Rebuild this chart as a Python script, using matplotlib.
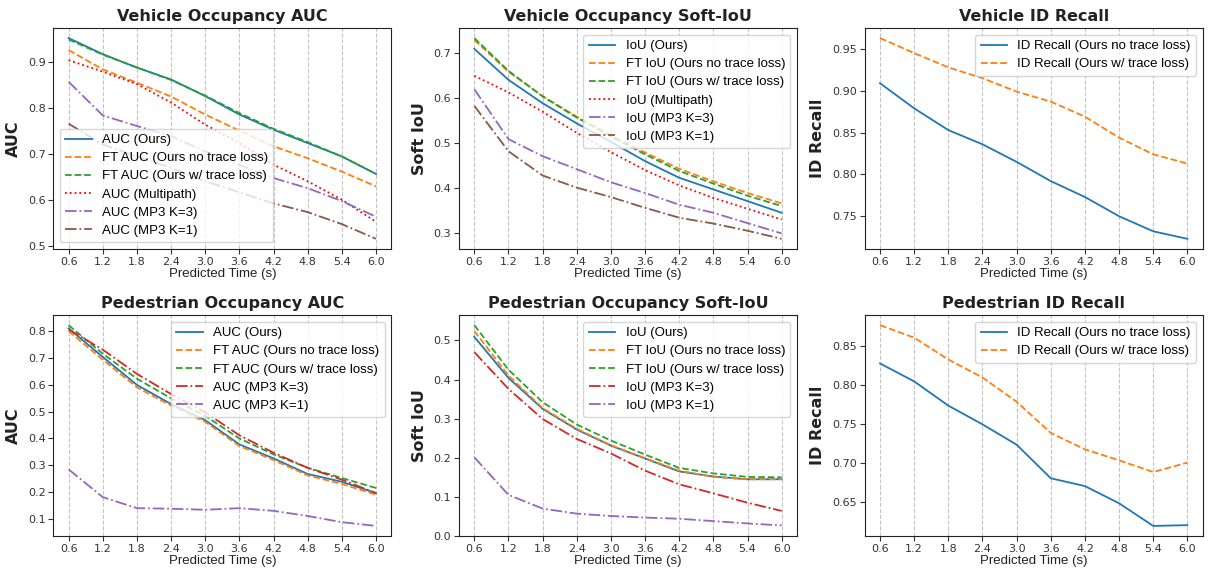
import numpy as np
import matplotlib
matplotlib.use("Agg")
import matplotlib.pyplot as plt
from matplotlib.ticker import MultipleLocator

# x axis (prediction horizon, seconds)
times = [0.6, 1.2, 1.8, 2.4, 3.0, 3.6, 4.2, 4.8, 5.4, 6.0]

# Vehicle occupancy AUC
veh_auc_ours = [0.951, 0.916, 0.887, 0.861, 0.825, 0.785, 0.752, 0.723, 0.694, 0.656]
veh_auc_ft_no = [0.925, 0.883, 0.854, 0.824, 0.785, 0.750, 0.716, 0.690, 0.661, 0.629]
veh_auc_ft_w = [0.948, 0.915, 0.887, 0.860, 0.826, 0.788, 0.754, 0.725, 0.694, 0.656]
veh_auc_multipath = [0.903, 0.878, 0.851, 0.811, 0.763, 0.723, 0.676, 0.640, 0.600, 0.552]
veh_auc_mp3_k3 = [0.856, 0.783, 0.760, 0.738, 0.705, 0.676, 0.647, 0.625, 0.597, 0.563]
veh_auc_mp3_k1 = [0.765, 0.720, 0.694, 0.669, 0.640, 0.616, 0.592, 0.573, 0.547, 0.515]

# Vehicle occupancy soft-IoU
veh_iou_ours = [0.710, 0.641, 0.589, 0.544, 0.503, 0.460, 0.423, 0.397, 0.371, 0.345]
veh_iou_ft_no = [0.730, 0.659, 0.605, 0.559, 0.518, 0.479, 0.443, 0.415, 0.389, 0.366]
veh_iou_ft_w = [0.734, 0.661, 0.604, 0.557, 0.515, 0.475, 0.438, 0.410, 0.383, 0.360]
veh_iou_multipath = [0.650, 0.613, 0.570, 0.523, 0.480, 0.440, 0.406, 0.378, 0.354, 0.330]
veh_iou_mp3_k3 = [0.620, 0.509, 0.471, 0.442, 0.413, 0.389, 0.363, 0.345, 0.322, 0.299]
veh_iou_mp3_k1 = [0.583, 0.482, 0.428, 0.401, 0.380, 0.356, 0.334, 0.321, 0.305, 0.287]

# Vehicle ID recall
veh_rec_no = [0.909, 0.879, 0.853, 0.836, 0.815, 0.792, 0.773, 0.750, 0.732, 0.723]
veh_rec_w = [0.963, 0.945, 0.928, 0.915, 0.899, 0.887, 0.869, 0.844, 0.824, 0.813]

# Pedestrian occupancy AUC
ped_auc_ours = [0.809, 0.703, 0.599, 0.528, 0.468, 0.378, 0.326, 0.268, 0.239, 0.197]
ped_auc_ft_no = [0.799, 0.693, 0.590, 0.522, 0.462, 0.372, 0.320, 0.263, 0.231, 0.191]
ped_auc_ft_w = [0.821, 0.715, 0.622, 0.549, 0.484, 0.400, 0.341, 0.291, 0.253, 0.216]
ped_auc_mp3_k3 = [0.805, 0.730, 0.640, 0.565, 0.497, 0.412, 0.347, 0.291, 0.247, 0.197]
ped_auc_mp3_k1 = [0.285, 0.182, 0.141, 0.139, 0.135, 0.141, 0.131, 0.112, 0.089, 0.075]

# Pedestrian occupancy soft-IoU
ped_iou_ours = [0.509, 0.404, 0.325, 0.272, 0.231, 0.198, 0.165, 0.152, 0.145, 0.145]
ped_iou_ft_no = [0.524, 0.410, 0.327, 0.274, 0.232, 0.199, 0.167, 0.151, 0.145, 0.145]
ped_iou_ft_w = [0.539, 0.425, 0.342, 0.285, 0.244, 0.208, 0.174, 0.160, 0.151, 0.150]
ped_iou_mp3_k3 = [0.470, 0.376, 0.299, 0.248, 0.211, 0.167, 0.132, 0.109, 0.085, 0.064]
ped_iou_mp3_k1 = [0.201, 0.105, 0.070, 0.057, 0.051, 0.047, 0.044, 0.038, 0.032, 0.027]

# Pedestrian ID recall
ped_rec_no = [0.828, 0.805, 0.774, 0.750, 0.724, 0.681, 0.671, 0.649, 0.620, 0.621]
ped_rec_w = [0.877, 0.861, 0.833, 0.810, 0.779, 0.739, 0.718, 0.704, 0.689, 0.701]

plt.rcParams['font.family'] = 'DejaVu Sans'
plt.rcParams['xtick.direction'] = 'out'
plt.rcParams['ytick.direction'] = 'out'
plt.rcParams['lines.linewidth'] = 1.3

LEG_FONT = {'family': 'Liberation Sans', 'size': 9.5}

fig, axes = plt.subplots(2, 3, figsize=(12.1, 5.72), dpi=100)
fig.subplots_adjust(left=0.044, right=0.994, top=0.951, bottom=0.063,
                    wspace=0.2, hspace=0.30)


def style_axis(ax, title, ylabel, ystep):
    ax.set_title(title, fontsize=11.5, fontweight='bold', color='#222222', pad=5)
    ax.set_ylabel(ylabel, fontsize=11.5, fontweight='bold', color='#222222', labelpad=5)
    ax.set_xlabel('Predicted Time (s)', family='Liberation Sans', fontsize=9.5,
                  color='#222222', labelpad=1)
    ax.set_xticks(times)
    ax.set_xticklabels([f'{t:.1f}' for t in times])
    ax.yaxis.set_major_locator(MultipleLocator(ystep))
    ax.tick_params(labelsize=8, colors='#333333', length=3.5, pad=2, width=0.8)
    ax.grid(axis='x', linestyle='--', color='#c4c4c4', linewidth=0.8)
    ax.set_axisbelow(True)
    for sp in ax.spines.values():
        sp.set_color('#222222')


def add_legend(ax, loc):
    ax.legend(loc=loc, prop=LEG_FONT, labelspacing=0.45, borderpad=0.4)


# Vehicle AUC
ax = axes[0, 0]
ax.plot(times, veh_auc_ours, color='tab:blue', label='AUC (Ours)')
ax.plot(times, veh_auc_ft_no, '--', color='tab:orange', label='FT AUC (Ours no trace loss)')
ax.plot(times, veh_auc_ft_w, '--', color='tab:green', label='FT AUC (Ours w/ trace loss)')
ax.plot(times, veh_auc_multipath, ':', color='red', label='AUC (Multipath)')
ax.plot(times, veh_auc_mp3_k3, '-.', color='tab:purple', label='AUC (MP3 K=3)')
ax.plot(times, veh_auc_mp3_k1, '-.', color='tab:brown', label='AUC (MP3 K=1)')
style_axis(ax, 'Vehicle Occupancy AUC', 'AUC', 0.1)
add_legend(ax, 'lower left')

# Vehicle soft IoU
ax = axes[0, 1]
ax.plot(times, veh_iou_ours, color='tab:blue', label='IoU (Ours)')
ax.plot(times, veh_iou_ft_no, '--', color='tab:orange', label='FT IoU (Ours no trace loss)')
ax.plot(times, veh_iou_ft_w, '--', color='tab:green', label='FT IoU (Ours w/ trace loss)')
ax.plot(times, veh_iou_multipath, ':', color='red', label='IoU (Multipath)')
ax.plot(times, veh_iou_mp3_k3, '-.', color='tab:purple', label='IoU (MP3 K=3)')
ax.plot(times, veh_iou_mp3_k1, '-.', color='tab:brown', label='IoU (MP3 K=1)')
style_axis(ax, 'Vehicle Occupancy Soft-IoU', 'Soft IoU', 0.1)
add_legend(ax, 'upper right')

# Vehicle ID recall
ax = axes[0, 2]
ax.plot(times, veh_rec_no, color='tab:blue', label='ID Recall (Ours no trace loss)')
ax.plot(times, veh_rec_w, '--', color='tab:orange', label='ID Recall (Ours w/ trace loss)')
style_axis(ax, 'Vehicle ID Recall', 'ID Recall', 0.05)
add_legend(ax, 'upper right')

# Pedestrian AUC
ax = axes[1, 0]
ax.plot(times, ped_auc_ours, color='tab:blue', label='AUC (Ours)')
ax.plot(times, ped_auc_ft_no, '--', color='tab:orange', label='FT AUC (Ours no trace loss)')
ax.plot(times, ped_auc_ft_w, '--', color='tab:green', label='FT AUC (Ours w/ trace loss)')
ax.plot(times, ped_auc_mp3_k3, '-.', color='tab:red', label='AUC (MP3 K=3)')
ax.plot(times, ped_auc_mp3_k1, '-.', color='tab:purple', label='AUC (MP3 K=1)')
style_axis(ax, 'Pedestrian Occupancy AUC', 'AUC', 0.1)
add_legend(ax, 'upper right')

# Pedestrian soft IoU
ax = axes[1, 1]
ax.plot(times, ped_iou_ours, color='tab:blue', label='IoU (Ours)')
ax.plot(times, ped_iou_ft_no, '--', color='tab:orange', label='FT IoU (Ours no trace loss)')
ax.plot(times, ped_iou_ft_w, '--', color='tab:green', label='FT IoU (Ours w/ trace loss)')
ax.plot(times, ped_iou_mp3_k3, '-.', color='tab:red', label='IoU (MP3 K=3)')
ax.plot(times, ped_iou_mp3_k1, '-.', color='tab:purple', label='IoU (MP3 K=1)')
style_axis(ax, 'Pedestrian Occupancy Soft-IoU', 'Soft IoU', 0.1)
ax.set_ylim(bottom=0.0)
add_legend(ax, 'upper right')

# Pedestrian ID recall
ax = axes[1, 2]
ax.plot(times, ped_rec_no, color='tab:blue', label='ID Recall (Ours no trace loss)')
ax.plot(times, ped_rec_w, '--', color='tab:orange', label='ID Recall (Ours w/ trace loss)')
style_axis(ax, 'Pedestrian ID Recall', 'ID Recall', 0.05)
add_legend(ax, 'upper right')

fig.savefig('out.png', dpi=100)
